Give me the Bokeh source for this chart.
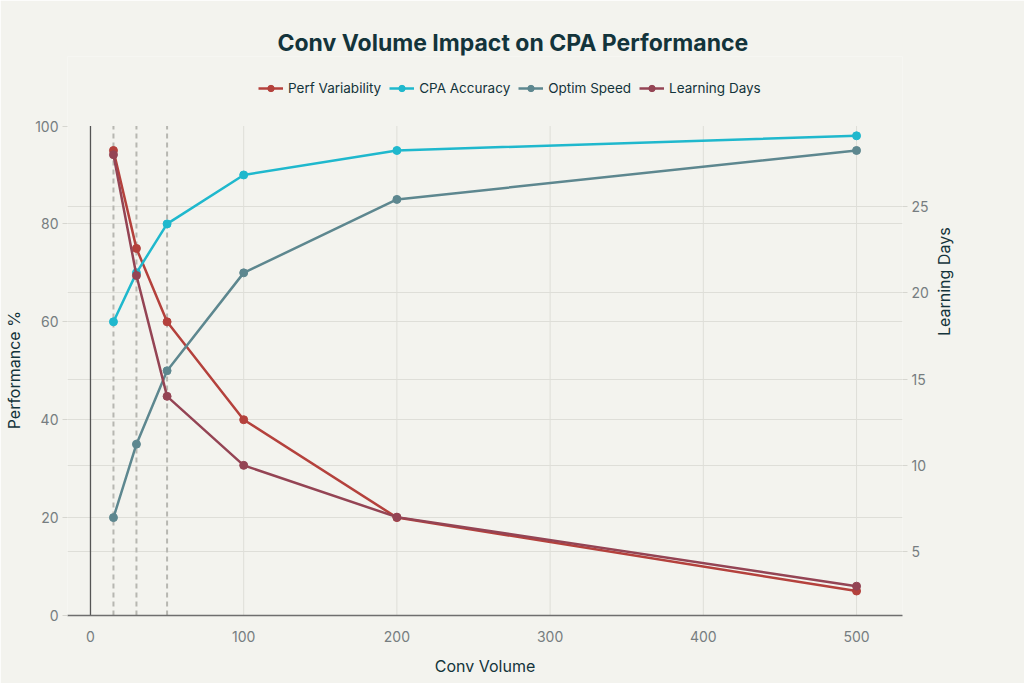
import math
from bokeh.plotting import figure
from bokeh.models import (Range1d, LinearAxis, FixedTicker, Grid, Legend, LegendItem)
from bokeh.embed import file_html
from bokeh.resources import INLINE

# ---- data ----
conv_volume = [15, 30, 50, 100, 200, 500]
perf_variability = [95, 75, 60, 40, 20, 5]
cpa_accuracy = [60, 70, 80, 90, 95, 98]
optim_speed = [20, 35, 50, 70, 85, 95]
learning_days = [28, 21, 14, 10, 7, 3]
thresholds = [15, 30, 50]
x_ticks = [0, 100, 200, 300, 400, 500]
left_ticks = [0, 20, 40, 60, 80, 100]
right_ticks = [5, 10, 15, 20, 25]

BG = "#F3F3EE"
GRID = "#DEDED8"
TICK = "#767D80"
DARK = "#13343B"
FONT = "Inter"
PAD = "\u2003" * 4 + "\u00a0"   # trailing space so the rotated labels sit centred on the data area

# frame extends above the plotting area so the legend can sit there
Y_TOP = 114.2          # left axis value at the frame top
DAYS_LO, DAYS_HI = 1.3, 33.69

p = figure(width=1024, height=683, output_backend="svg", toolbar_location=None,
           x_range=Range1d(-15, 530), y_range=Range1d(0, Y_TOP),
           min_border_left=67, min_border_right=122, min_border_top=56, min_border_bottom=68,
           background_fill_color=BG, border_fill_color=BG, outline_line_color=None)
p.extra_y_ranges = {"days": Range1d(DAYS_LO, DAYS_HI)}

# title
p.title.text = "Conv Volume Impact on CPA Performance"
p.title.align = "left"
p.title.offset = 210
p.title.text_font = FONT
p.title.text_font_size = "23px"
p.title.text_font_style = "bold"
p.title.text_color = DARK
p.title.standoff = 0

# grids
p.xgrid.visible = False
p.ygrid.ticker = FixedTicker(ticks=left_ticks[1:-1])
p.ygrid.grid_line_color = GRID
rgrid = Grid(dimension=1, ticker=FixedTicker(ticks=right_ticks), y_range_name="days",
             grid_line_color=GRID)
p.add_layout(rgrid)

y_lo, y_hi = left_ticks[0], left_ticks[-1]
vx = x_ticks[1:]
p.segment(x0=vx, y0=[y_lo] * len(vx), x1=vx, y1=[y_hi] * len(vx),
          line_color=GRID, line_width=1)
# zero line
p.segment(x0=[x_ticks[0]], y0=[y_lo], x1=[x_ticks[0]], y1=[y_hi],
          line_color="#555555", line_width=1.3)
# threshold lines
p.segment(x0=thresholds, y0=[y_lo] * 3, x1=thresholds, y1=[y_hi] * 3,
          line_color="#B7B7B1", line_width=2, line_dash="5 4")

# axes
xa = p.xaxis[0]
xa.ticker = FixedTicker(ticks=x_ticks)
xa.axis_label = "Conv Volume"
xa.axis_line_color = "#6E6E6E"
xa.axis_line_width = 1.3
xa.major_tick_line_color = None
xa.minor_tick_line_color = None
xa.major_label_standoff = 9
xa.axis_label_standoff = 11

ya = p.yaxis[0]
ya.ticker = FixedTicker(ticks=left_ticks)
ya.axis_label = "Performance %" + PAD
ya.axis_line_color = None
ya.major_tick_line_color = "#D6D6D0"
ya.major_tick_out = 5
ya.major_tick_in = 0
ya.minor_tick_line_color = None
ya.major_label_standoff = 4
ya.axis_label_standoff = 8

ra = LinearAxis(y_range_name="days", ticker=FixedTicker(ticks=right_ticks),
                axis_label="Learning Days" + PAD)
ra.axis_line_color = None
ra.major_tick_line_color = "#D6D6D0"
ra.major_tick_out = 5
ra.major_tick_in = 0
ra.minor_tick_line_color = None
ra.major_label_standoff = 4
ra.axis_label_standoff = 12
ra.axis_label_orientation = math.pi / 2
ra.axis_label_text_align = "center"
p.add_layout(ra, "right")

for ax in (xa, ya, ra):
    ax.major_label_text_font = FONT
    ax.major_label_text_font_size = "14px"
    ax.major_label_text_color = TICK
    ax.axis_label_text_font = FONT
    ax.axis_label_text_font_size = "16px"
    ax.axis_label_text_font_style = "normal"
    ax.axis_label_text_color = DARK

# series
series = [
    ("Perf Variability", perf_variability, "#B4413C", "default"),
    ("CPA Accuracy", cpa_accuracy, "#1FB8CD", "default"),
    ("Optim Speed", optim_speed, "#5D878F", "default"),
    ("Learning Days", learning_days, "#944454", "days"),
]
items = []
for name, ys, col, rng in series:
    l = p.line(conv_volume, ys, line_color=col, line_width=2.5, y_range_name=rng)
    s = p.scatter(conv_volume, ys, size=8, fill_color=col, line_color=col, y_range_name=rng)
    items.append(LegendItem(label=name, renderers=[l, s]))

legend = Legend(items=items, orientation="horizontal", location=(186, 514),
                background_fill_alpha=0, border_line_alpha=0,
                label_text_font=FONT, label_text_font_size="13.5px", label_text_color=DARK,
                glyph_width=25, glyph_height=16, label_standoff=5, spacing=8,
                padding=5, margin=0)
p.add_layout(legend)

open("out.html", "w").write(file_html(p, INLINE))
